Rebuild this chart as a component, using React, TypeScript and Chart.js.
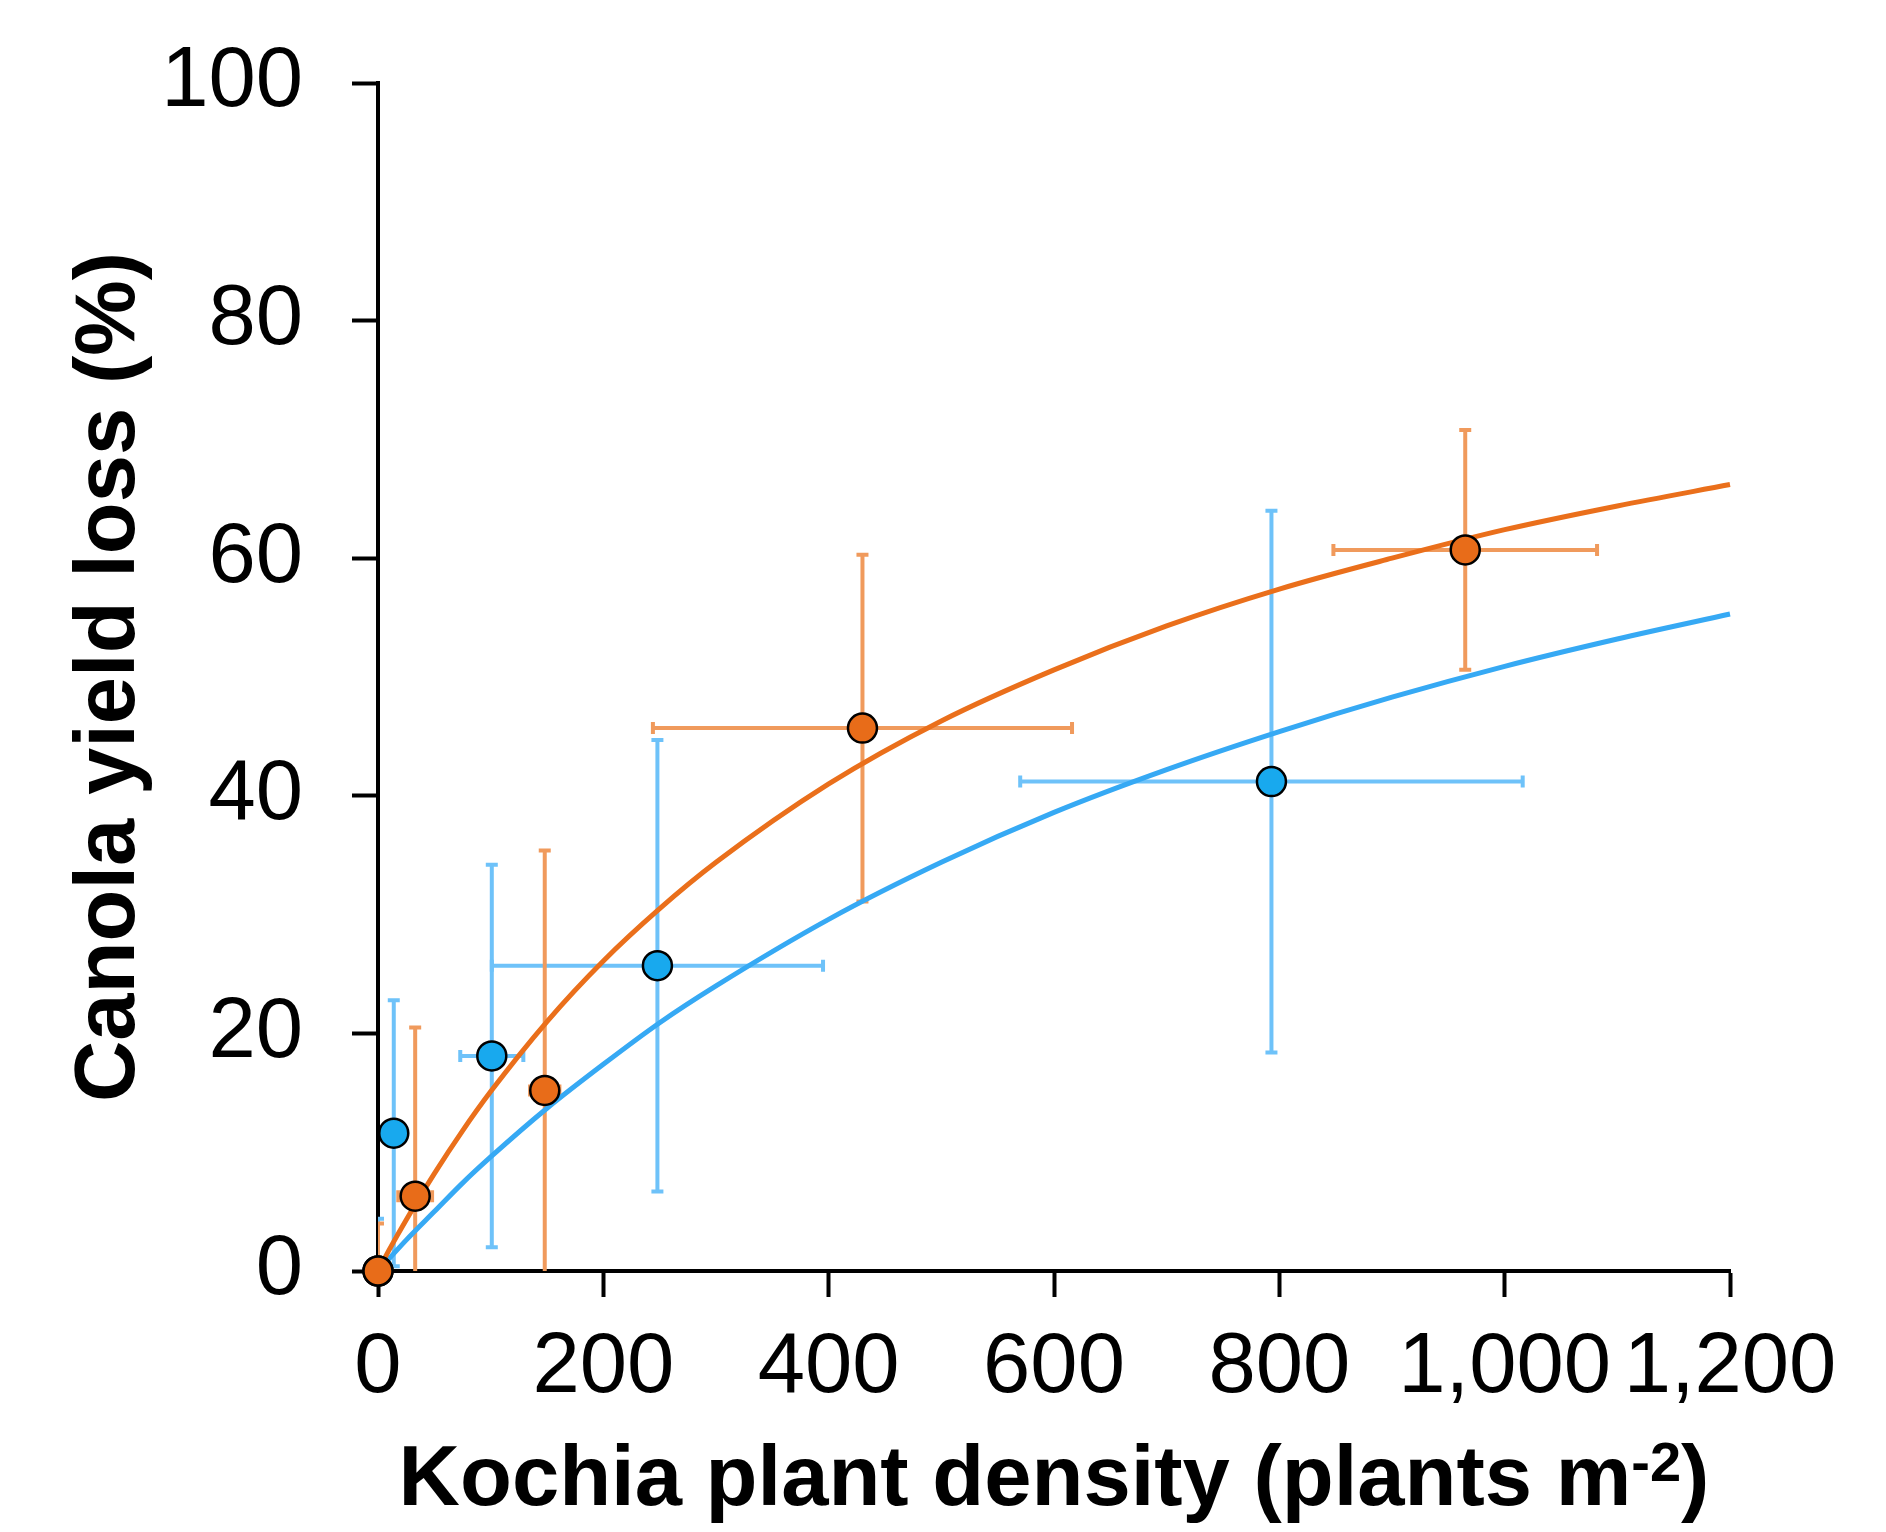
import React, { useEffect, useRef } from 'react';
import { Chart, registerables } from 'chart.js';

Chart.register(...registerables);

const FONT = '"Liberation Sans", Arial, Helvetica, sans-serif';

// Axis ticks
const xTickValues = [0, 200, 400, 600, 800, 1000, 1200];
const yTickValues = [0, 20, 40, 60, 80, 100];

// Blue series: observed means with error bars
const blueDensity = [0, 14, 101, 248, 793];
const blueLoss = [0, 11.6, 18.1, 25.7, 41.2];
const blueLossErr = [4.4, 11.2, 16.1, 19.0, 22.8];
const blueDensityErr = [0, 0, 28, 147, 223];

// Orange series: observed means with error bars
const orangeDensity = [0, 33, 148, 430, 965];
const orangeLoss = [0, 6.3, 15.2, 45.7, 60.7];
const orangeLossErr = [4.0, 14.2, 20.2, 14.6, 10.1];
const orangeDensityErr = [0, 15, 13, 186, 117];

// Fitted curves
const curveDensity = [0, 10, 25, 50, 75, 100, 150, 200, 250, 300, 400, 500, 600, 700, 800, 900, 1000, 1100, 1200];
const blueCurveLoss = [0, 1.05, 2.6, 5.0, 7.4, 9.6, 13.7, 17.4, 20.9, 24.0, 29.6, 34.4, 38.6, 42.2, 45.4, 48.3, 50.9, 53.2, 55.3];
const orangeCurveLoss = [0, 1.8, 4.3, 8.2, 11.8, 15.1, 21.0, 26.1, 30.5, 34.4, 41.0, 46.3, 50.6, 54.3, 57.4, 60.0, 62.4, 64.4, 66.2];

const BLUE_POINT = '#18A9EE';
const BLUE_LINE = '#36A9F4';
const BLUE_ERR = '#6EC2F9';
const ORANGE_POINT = '#E86C19';
const ORANGE_LINE = '#EA6F1B';
const ORANGE_ERR = '#F09A5C';

const xTitleMain = 'Kochia plant density (plants m';
const xTitleSup = '-2';
const xTitleEnd = ')';
const yTitle = 'Canola yield loss (%)';

const errorBarPlugin = {
  id: 'errorBars',
  beforeDatasetsDraw(chart: any) {
    const { ctx, chartArea, scales } = chart;
    const xs = scales.x;
    const ys = scales.y;
    ctx.save();
    ctx.beginPath();
    ctx.rect(chartArea.left, chartArea.top, chartArea.right - chartArea.left, chartArea.bottom - chartArea.top);
    ctx.clip();
    const groups = [
      { xv: blueDensity, yv: blueLoss, ye: blueLossErr, xe: blueDensityErr, color: BLUE_ERR },
      { xv: orangeDensity, yv: orangeLoss, ye: orangeLossErr, xe: orangeDensityErr, color: ORANGE_ERR },
    ];
    const cap = 6;
    ctx.lineWidth = 4;
    ctx.lineCap = 'butt';
    for (const g of groups) {
      ctx.strokeStyle = g.color;
      for (let i = 0; i < g.xv.length; i++) {
        const px = xs.getPixelForValue(g.xv[i]);
        const py = ys.getPixelForValue(g.yv[i]);
        if (g.ye[i] > 0) {
          const top = ys.getPixelForValue(g.yv[i] + g.ye[i]);
          const bot = ys.getPixelForValue(g.yv[i] - g.ye[i]);
          ctx.beginPath();
          ctx.moveTo(px, top);
          ctx.lineTo(px, bot);
          ctx.moveTo(px - cap, top);
          ctx.lineTo(px + cap, top);
          ctx.moveTo(px - cap, bot);
          ctx.lineTo(px + cap, bot);
          ctx.stroke();
        }
        if (g.xe[i] > 0) {
          const l = xs.getPixelForValue(g.xv[i] - g.xe[i]);
          const r = xs.getPixelForValue(g.xv[i] + g.xe[i]);
          ctx.beginPath();
          ctx.moveTo(l, py);
          ctx.lineTo(r, py);
          ctx.moveTo(l, py - cap);
          ctx.lineTo(l, py + cap);
          ctx.moveTo(r, py - cap);
          ctx.lineTo(r, py + cap);
          ctx.stroke();
        }
      }
    }
    ctx.restore();
  },
};

const titlePlugin = {
  id: 'axisTitles',
  afterDraw(chart: any) {
    const { ctx, chartArea } = chart;
    ctx.save();
    ctx.fillStyle = '#000';
    const mainFont = `bold 85px ${FONT}`;
    const supFont = `bold 56px ${FONT}`;
    ctx.font = mainFont;
    const w1 = ctx.measureText(xTitleMain).width;
    const w3 = ctx.measureText(xTitleEnd).width;
    ctx.font = supFont;
    const w2 = ctx.measureText(xTitleSup).width;
    const total = w1 + w2 + w3;
    const cx = (chartArea.left + chartArea.right) / 2;
    let x = cx - total / 2;
    const baseY = 1505;
    ctx.textAlign = 'left';
    ctx.textBaseline = 'alphabetic';
    ctx.font = mainFont;
    ctx.fillText(xTitleMain, x, baseY);
    x += w1;
    ctx.font = supFont;
    ctx.fillText(xTitleSup, x, baseY - 24);
    x += w2;
    ctx.font = mainFont;
    ctx.fillText(xTitleEnd, x, baseY);
    // Y title rotated
    ctx.translate(134, (chartArea.top + chartArea.bottom) / 2);
    ctx.rotate(-Math.PI / 2);
    ctx.textAlign = 'center';
    ctx.font = mainFont;
    ctx.fillText(yTitle, 0, 0);
    ctx.restore();
  },
};

export default function App() {
  const canvasRef = useRef<HTMLCanvasElement | null>(null);

  useEffect(() => {
    const canvas = canvasRef.current;
    if (!canvas) return;
    const chart = new Chart(canvas, {
      type: 'scatter',
      data: {
        datasets: [
          {
            label: 'Orange observed',
            data: orangeDensity.map((d, i) => ({ x: d, y: orangeLoss[i] })),
            backgroundColor: ORANGE_POINT,
            borderColor: '#000',
            borderWidth: 2.5,
            pointRadius: 14.5,
            showLine: false,
            clip: false,
          } as any,
          {
            label: 'Blue observed',
            data: blueDensity.map((d, i) => ({ x: d, y: blueLoss[i] })),
            backgroundColor: BLUE_POINT,
            borderColor: '#000',
            borderWidth: 2.5,
            pointRadius: 14.5,
            showLine: false,
            clip: false,
          } as any,
          {
            label: 'Orange fit',
            type: 'line',
            data: curveDensity.map((d, i) => ({ x: d, y: orangeCurveLoss[i] })),
            borderColor: ORANGE_LINE,
            borderWidth: 5,
            pointRadius: 0,
            fill: false,
            cubicInterpolationMode: 'monotone',
            clip: false,
          } as any,
          {
            label: 'Blue fit',
            type: 'line',
            data: curveDensity.map((d, i) => ({ x: d, y: blueCurveLoss[i] })),
            borderColor: BLUE_LINE,
            borderWidth: 5,
            pointRadius: 0,
            fill: false,
            cubicInterpolationMode: 'monotone',
            clip: false,
          } as any,
        ],
      },
      options: {
        animation: false,
        responsive: false,
        maintainAspectRatio: false,
        devicePixelRatio: 1,
        layout: { padding: { left: 0, top: 83, right: 156, bottom: 0 } },
        plugins: {
          legend: { display: false },
          tooltip: { enabled: false },
        },
        scales: {
          x: {
            type: 'linear',
            min: 0,
            max: 1200,
            afterBuildTicks: (scale: any) => {
              scale.ticks = xTickValues.map((v) => ({ value: v }));
            },
            afterFit: (scale: any) => {
              scale.height = 261;
              scale.paddingLeft = 0;
              scale.paddingRight = 0;
            },
            ticks: {
              font: { family: FONT, size: 85 },
              color: '#000',
              padding: 21,
              maxRotation: 0,
              minRotation: 0,
              autoSkip: false,
              callback: (v: any) => Number(v).toLocaleString('en-US'),
            },
            grid: {
              drawOnChartArea: false,
              drawTicks: true,
              tickLength: 26,
              tickWidth: 4,
              tickColor: '#000',
            },
            border: { display: true, color: '#000', width: 4 },
          },
          y: {
            type: 'linear',
            min: 0,
            max: 100,
            afterBuildTicks: (scale: any) => {
              scale.ticks = yTickValues.map((v) => ({ value: v }));
            },
            afterFit: (scale: any) => {
              scale.width = 378;
              scale.paddingTop = 0;
              scale.paddingBottom = 0;
            },
            ticks: {
              font: { family: FONT, size: 85 },
              color: '#000',
              padding: 49,
              autoSkip: false,
              callback: (v: any) => String(v),
            },
            grid: {
              drawOnChartArea: false,
              drawTicks: true,
              tickLength: 26,
              tickWidth: 4,
              tickColor: '#000',
            },
            border: { display: true, color: '#000', width: 4 },
          },
        },
      },
      plugins: [errorBarPlugin, titlePlugin],
    } as any);
    return () => chart.destroy();
  }, []);

  return (
    <div style={{ position: 'fixed', left: 0, top: 0, width: 1886, height: 1532, background: '#fff' }}>
      <canvas ref={canvasRef} width={1886} height={1532} style={{ display: 'block', width: 1886, height: 1532 }} />
    </div>
  );
}
